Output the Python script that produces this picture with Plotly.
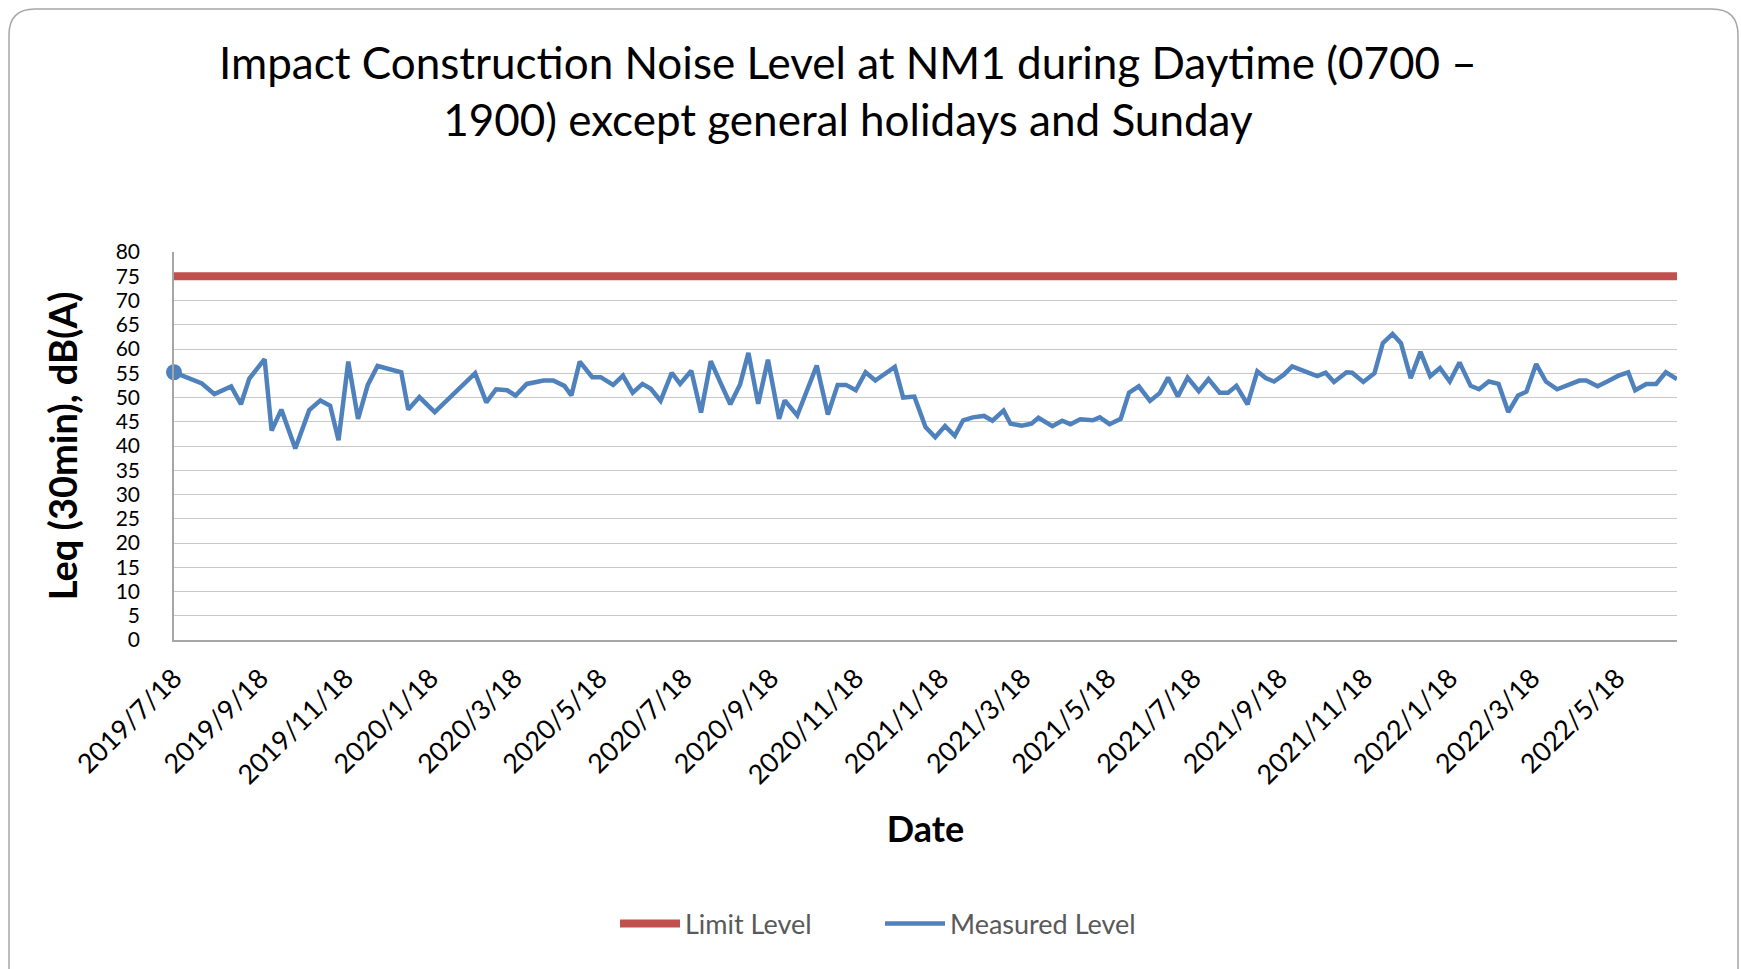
import pandas as pd
import plotly.graph_objects as go

# ---------------- data ----------------
START_DATE = "2019-07-18"
# measurement dates, as days after START_DATE
day_offsets = [
    0, 20, 29, 41, 48, 54, 65, 70, 77, 87, 97, 105, 112, 118, 125, 132, 139, 146,
    163, 168, 176, 187, 216, 224, 231, 239, 245, 253, 265, 272, 280, 285, 291, 300,
    306, 315, 322, 329, 336, 342, 349, 357, 363, 371, 378, 385, 392, 399, 406, 412,
    419, 426, 434, 438, 447, 461, 469, 476, 482, 489, 496, 503, 517, 523, 531, 539,
    546, 553, 560, 566, 573, 581, 587, 595, 600, 608, 615, 620, 630, 637, 643, 650,
    659, 664, 671, 679, 685, 692, 700, 707, 713, 720, 727, 735, 742, 750, 756, 762,
    770, 777, 783, 789, 796, 802, 813, 820, 826, 832, 841, 845, 853, 861, 867, 874,
    880, 887, 894, 901, 908, 915, 922, 930, 936, 943, 950, 957, 964, 970, 977, 984,
    992, 1000, 1008, 1013, 1021, 1028, 1036, 1043, 1048, 1056, 1063, 1070, 1078,
]
measured_level = [
    55.2, 52.9, 50.7, 52.3, 48.6, 53.9, 57.9, 43.2, 47.5, 39.5, 47.4, 49.4, 48.3, 41.2,
    57.4, 45.6, 52.6, 56.5, 55.2, 47.5, 50.1, 47.0, 55.0, 49.0, 51.7, 51.5, 50.4, 52.8,
    53.5, 53.5, 52.4, 50.4, 57.4, 54.2, 54.2, 52.6, 54.5, 51.0, 52.8, 51.8, 49.3, 55.1,
    52.8, 55.5, 46.9, 57.5, 53.0, 48.6, 52.7, 59.2, 48.7, 57.8, 45.6, 49.4, 46.3, 56.6,
    46.5, 52.6, 52.6, 51.5, 55.2, 53.5, 56.3, 50.0, 50.2, 43.9, 41.8, 44.1, 42.1, 45.3,
    45.9, 46.2, 45.2, 47.3, 44.6, 44.2, 44.6, 45.8, 44.1, 45.2, 44.5, 45.5, 45.3, 45.9,
    44.5, 45.6, 51.0, 52.3, 49.3, 50.9, 54.1, 50.2, 54.1, 51.3, 53.8, 51.0, 51.0, 52.4,
    48.6, 55.4, 54.0, 53.3, 54.7, 56.4, 55.2, 54.4, 55.1, 53.2, 55.2, 55.1, 53.2, 55.0,
    61.2, 63.1, 61.2, 54.0, 59.4, 54.4, 56.1, 53.3, 57.2, 52.4, 51.7, 53.3, 52.8, 47.0,
    50.4, 51.2, 56.9, 53.3, 51.7, 52.5, 53.5, 53.5, 52.3, 53.3, 54.5, 55.2, 51.5, 52.8,
    52.8, 55.2, 53.8,
]
LIMIT_LEVEL = 75

tick_dates = [
    "2019-07-18", "2019-09-18", "2019-11-18", "2020-01-18", "2020-03-18", "2020-05-18",
    "2020-07-18", "2020-09-18", "2020-11-18", "2021-01-18", "2021-03-18", "2021-05-18",
    "2021-07-18", "2021-09-18", "2021-11-18", "2022-01-18", "2022-03-18", "2022-05-18",
]
tick_labels = [
    "2019/7/18", "2019/9/18", "2019/11/18", "2020/1/18", "2020/3/18", "2020/5/18",
    "2020/7/18", "2020/9/18", "2020/11/18", "2021/1/18", "2021/3/18", "2021/5/18",
    "2021/7/18", "2021/9/18", "2021/11/18", "2022/1/18", "2022/3/18", "2022/5/18",
]
y_ticks = list(range(0, 81, 5))

TITLE = ("Impact Construction Noise Level at NM1 during Daytime (0700 \u2013"
         "<br>1900) except general holidays and Sunday")
X_TITLE = "Date"
Y_TITLE = "Leq (30min), dB(A)"

# ---------------- figure ----------------
dates = pd.Timestamp(START_DATE) + pd.to_timedelta(day_offsets, unit="D")
limit = [LIMIT_LEVEL] * len(dates)

FONT = "Lato, 'Open Sans', sans-serif"
RED = "#C0504D"
BLUE = "#4F81BD"

fig = go.Figure()
fig.add_trace(go.Scatter(
    x=dates, y=limit, name="Limit Level", mode="lines",
    line=dict(color=RED, width=8),
))
fig.add_trace(go.Scatter(
    x=dates, y=measured_level, name="Measured Level", mode="lines",
    line=dict(color=BLUE, width=4.5),
))
fig.add_trace(go.Scatter(
    x=[dates[0]], y=[measured_level[0]], mode="markers", showlegend=False,
    marker=dict(color=BLUE, size=16), cliponaxis=False, hoverinfo="skip",
))

# plot area in pixels: left 174, right 1677, top 252, bottom 640
L, R, T, B = 174, 1677, 252, 640
W, H = 1741, 969
def px(x):
    return (x - L) / (R - L)
def py(y):
    return (B - y) / (B - T)

# rounded frame
fx0, fx1, fy0, fy1, rad = 9, 1738, 9, 1000, 26
rx = rad / (R - L)
ry = rad / (B - T)
path = (f"M {px(fx0)},{py(fy1)} L {px(fx0)},{py(fy0) - ry} "
        f"Q {px(fx0)},{py(fy0)} {px(fx0) + rx},{py(fy0)} "
        f"L {px(fx1) - rx},{py(fy0)} "
        f"Q {px(fx1)},{py(fy0)} {px(fx1)},{py(fy0) - ry} "
        f"L {px(fx1)},{py(fy1)}")
fig.add_shape(type="path", path=path, xref="paper", yref="paper",
              line=dict(color="#A6A6A6", width=1.5), layer="below")

# chart title (two lines)
fig.add_annotation(
    text=TITLE, xref="paper", yref="paper", x=px(848), y=py(34),
    xanchor="center", yanchor="top", showarrow=False, align="center",
    font=dict(size=44, family=FONT, color="#000000"),
)

fig.update_layout(
    width=W, height=H,
    margin=dict(l=L, r=W - R, t=T, b=H - B),
    paper_bgcolor="white", plot_bgcolor="white",
    font=dict(family=FONT, color="#000000"),
    showlegend=True,
    legend=dict(orientation="h", x=px(880), xanchor="center", y=py(924),
                yanchor="middle", font=dict(size=27, color="#595959", family=FONT),
                itemwidth=60, entrywidth=190, entrywidthmode="pixels",
                bgcolor="rgba(0,0,0,0)"),
)
fig.update_xaxes(
    type="date", range=[dates[0], dates[-1]],
    tickmode="array", tickvals=tick_dates, ticktext=tick_labels,
    tickangle=-45, tickfont=dict(size=27, family=FONT, color="#000000"),
    ticks="", showgrid=False, zeroline=False,
    showline=True, linecolor="#A6A6A6", linewidth=1.5,
    ticklabelstandoff=10,
    title=dict(text=f"<b>{X_TITLE}</b>", font=dict(size=36, family=FONT, color="#000000"),
               standoff=28),
)
fig.update_yaxes(
    range=[0, 80], tickmode="array", tickvals=y_ticks,
    tickfont=dict(size=21, family=FONT, color="#000000"),
    ticks="", showgrid=True, gridcolor="#C8C8C8", gridwidth=1,
    zeroline=False, showline=True, linecolor="#A6A6A6", linewidth=1.5,
    ticklabelstandoff=28,
    title=dict(text=f"<b>{Y_TITLE}</b>", font=dict(size=38, family=FONT, color="#000000"),
               standoff=26),
)

fig.write_html("out.html", config={"displayModeBar": False},
               post_script="document.body.style.margin='0';document.body.style.overflow='hidden';")
